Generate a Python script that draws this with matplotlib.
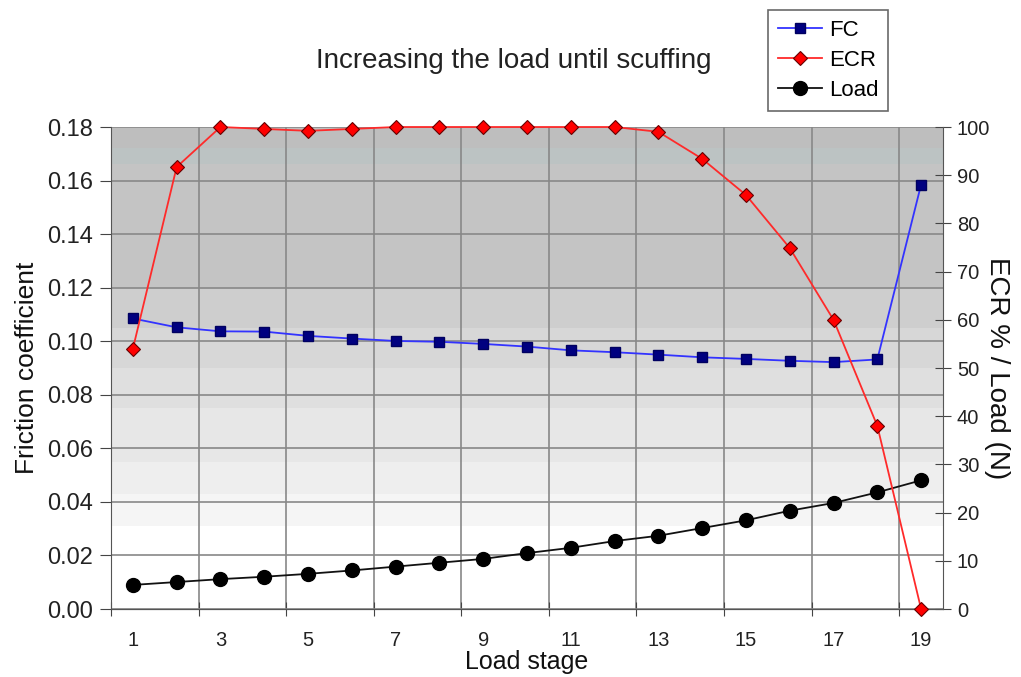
import matplotlib
matplotlib.use("Agg")
import matplotlib.pyplot as plt
import numpy as np

plt.rcParams['font.family'] = ['Liberation Sans', 'DejaVu Sans']

stages = list(range(1, 20))
fc = [0.1085, 0.1052, 0.1037, 0.1036, 0.1020, 0.1010, 0.1001, 0.0998, 0.0990,
      0.0980, 0.0966, 0.0959, 0.0950, 0.0940, 0.0934, 0.0927, 0.0922, 0.0932, 0.1585]
ecr = [54.0, 91.7, 100.0, 99.6, 99.2, 99.6, 100.0, 100.0, 100.0,
       100.0, 100.0, 100.0, 99.0, 93.4, 85.9, 74.9, 60.0, 38.0, 0.0]
load = [5.0, 5.6, 6.2, 6.7, 7.3, 8.0, 8.8, 9.6, 10.4,
        11.6, 12.7, 14.1, 15.2, 16.8, 18.4, 20.4, 22.0, 24.2, 26.7]
x_labels = [str(s) for s in range(1, 20, 2)]

# background bands (left-axis units), darker toward the top
band_edges = [0.0, 0.031, 0.043, 0.055, 0.075, 0.090, 0.105, 0.120, 0.166, 0.172, 0.18]
band_colors = ['#ffffff', '#f5f5f5', '#eeeeee', '#e7e7e7', '#dfdfdf', '#d7d7d7',
               '#cecece', '#c4c4c4', '#bcc3c3', '#bebebe']

fig = plt.figure(figsize=(10.21, 6.77), dpi=100)
ax = fig.add_axes([0.1087, 0.1004, 0.8149, 0.712])
ax2 = ax.twinx()

for lo, hi, c in zip(band_edges[:-1], band_edges[1:], band_colors):
    ax.axhspan(lo, hi, color=c, zorder=0, lw=0)

ax.set_xlim(0.5, 19.5)
ax.set_ylim(0, 0.18)
ax2.set_ylim(0, 100)

ax.set_xticks(np.arange(0.5, 19, 2))
ax.set_xticklabels([])
ax.set_xticks(range(1, 20, 2), minor=True)
ax.set_xticklabels(x_labels, minor=True)
ax.tick_params(axis='x', which='major', direction='inout', length=10, color='#444444')
ax.tick_params(axis='x', which='minor', length=0, pad=16, labelsize=14.5, labelcolor='#222222')
ax.set_yticks(np.arange(0, 0.181, 0.02))
ax.set_yticklabels([f"{v:.2f}" for v in np.arange(0, 0.181, 0.02)])
ax.tick_params(axis='y', direction='out', length=8, color='#444444', labelsize=17,
               labelcolor='#222222', pad=5)
ax2.set_yticks(range(0, 101, 10))
ax2.tick_params(axis='y', direction='inout', length=12, color='#444444', labelsize=14.5,
                labelcolor='#222222', pad=4)

ax.grid(True, which='major', color='#888888', lw=1.2, zorder=1)
ax.set_axisbelow(True)
for a in (ax, ax2):
    for s in a.spines.values():
        s.set_visible(False)
    a.spines['left'].set_visible(True)
    a.spines['bottom'].set_visible(True)
    a.spines['left'].set_color('#555555')
    a.spines['bottom'].set_color('#555555')
ax2.spines['right'].set_visible(True)
ax2.spines['right'].set_color('#555555')
ax2.spines['left'].set_visible(False)

l1, = ax.plot(stages, fc, color='#3333ff', lw=1.3, marker='s', ms=7,
              mfc='#000080', mec='#000060', label='FC', zorder=3, clip_on=False)
l2, = ax2.plot(stages, ecr, color='#ff2a2a', lw=1.3, marker='D', ms=7,
               mfc='#ff0000', mec='#660000', mew=0.8, label='ECR', zorder=4, clip_on=False)
l3, = ax2.plot(stages, load, color='#111111', lw=1.3, marker='o', ms=10,
               mfc='#000000', mec='#000000', label='Load', zorder=3, clip_on=False)

ax.set_ylabel('Friction coefficient', fontsize=19, color='#111111', labelpad=6)
ax2.set_ylabel('ECR % / Load (N)', fontsize=20, color='#111111', rotation=270, labelpad=14)
ax.set_xlabel('Load stage', fontsize=18, color='#111111', labelpad=0)

fig.text(0.503, 0.91, 'Increasing the load until scuffing', ha='center', va='center',
         fontsize=20, color='#222222')

leg = fig.legend(handles=[l1, l2, l3], loc='upper left', bbox_to_anchor=(0.752, 0.985),
                 fontsize=16, frameon=True, fancybox=False, edgecolor='#444444',
                 handlelength=2.0, handletextpad=0.3, borderpad=0.45, labelspacing=0.4,
                 borderaxespad=0)
leg.get_frame().set_linewidth(1.2)

fig.savefig('out.png', dpi=100)
